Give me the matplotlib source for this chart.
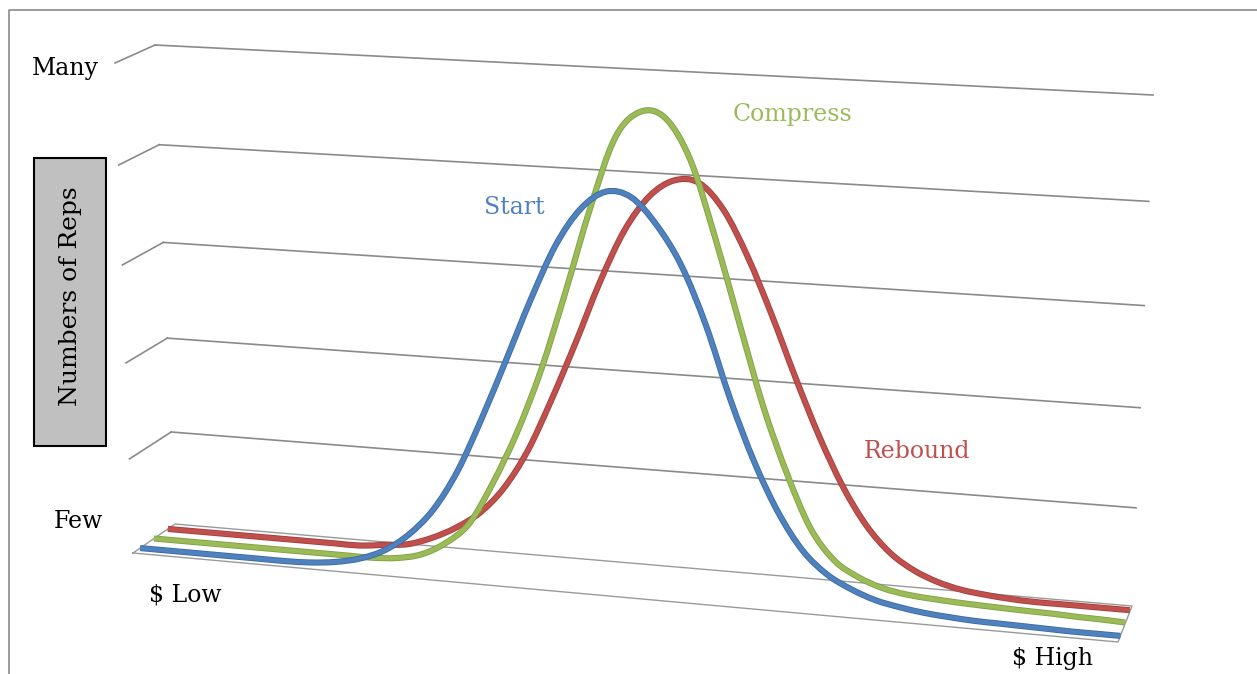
import matplotlib
matplotlib.use("Agg")
import matplotlib.pyplot as plt
import matplotlib.patheffects as pe
from matplotlib.patches import Rectangle, PathPatch
from matplotlib.path import Path
from matplotlib.transforms import Transform
import numpy as np


# price steps from "$ Low" (0) to "$ High" (40)
price_steps = list(range(41))

start = [0, 0, 0, 0, 0, 0, 0, 0.01, 0.04, 0.1, 0.21, 0.4, 0.68, 1.1, 1.66,
         2.27, 2.89, 3.44, 3.81, 3.99, 3.95, 3.7, 3.32, 2.75, 2.04, 1.43, 0.94,
         0.58, 0.36, 0.23, 0.14, 0.09, 0.055, 0.035, 0.02, 0.015, 0.01, 0.005,
         0, 0, 0]

compress = [0, 0, 0, 0, 0, 0, 0, 0, 0, 0, 0.02, 0.08, 0.22, 0.45, 0.9, 1.44,
            2.1, 2.9, 3.74, 4.44, 4.7, 4.65, 4.26, 3.53, 2.71, 1.9, 1.24,
            0.7, 0.39, 0.24, 0.15, 0.105, 0.085, 0.07, 0.06, 0.052, 0.045,
            0.04, 0.03, 0.025, 0.015]

rebound = [0, 0, 0, 0, 0, 0, 0, 0, 0, 0.03, 0.06, 0.15, 0.28, 0.46, 0.74,
           1.15, 1.7, 2.3, 2.93, 3.46, 3.81, 3.98, 3.97, 3.72, 3.27, 2.71, 2.1,
           1.53, 1.04, 0.66, 0.4, 0.24, 0.14, 0.08, 0.05, 0.03, 0.02, 0.02,
           0.02, 0.02, 0.02]

series_names = ["Rebound", "Compress", "Start"]
value_levels = [0, 1, 2, 3, 4, 5]
value_labels = {0: "Few", 5: "Many"}
category_labels = ["$ Low", "$ High"]


# ---- 3D frame of the chart (pixel corners of the box) ----
X_MAX = price_steps[-1]
V_MAX = value_levels[-1]
PERSP = 0.951
# corners indexed [x][depth] -> pixel (x, y)
FLOOR = np.array([[(133, 553), (175, 524)], [(1118, 642), (1132, 606)]], float)
CEIL = np.array([[(115, 63), (155, 45)], [(1139, 118), (1153, 95)]], float)


def bilerp(c, x, z):
    x = x[:, None]
    z = z[:, None]
    return ((1 - x) * (1 - z) * c[0, 0] + x * (1 - z) * c[1, 0]
            + (1 - x) * z * c[0, 1] + x * z * c[1, 1])


def project(x, v, z):
    x = np.asarray(x, float) / X_MAX
    t = np.asarray(v, float) / V_MAX
    z = np.asarray(z, float)
    f = PERSP * t / (1 + (PERSP - 1) * t)
    lo = bilerp(FLOOR, x, z)
    hi = bilerp(CEIL, x, z)
    return lo + f[:, None] * (hi - lo)


class Plane(Transform):
    input_dims = 2
    output_dims = 2

    def __init__(self, fixed, value):
        super().__init__()
        self.fixed = fixed
        self.value = value

    def transform_non_affine(self, values):
        values = np.asarray(values, float).reshape(-1, 2)
        a, b = values[:, 0], values[:, 1]
        c = np.full_like(a, self.value)
        if self.fixed == "depth":      # inputs (price, value)
            return project(a, b, c)
        if self.fixed == "price":      # inputs (depth, value)
            return project(c * X_MAX, b, a)
        return project(a, c, b)        # fixed value: inputs (price, depth)


def smooth_path(xs, ys):
    # smoothed line through the points (like Excel's "smoothed line")
    p = np.column_stack([xs, ys]).astype(float)
    verts = [p[0]]
    codes = [Path.MOVETO]
    n = len(p)
    for i in range(n - 1):
        p0 = p[max(i - 1, 0)]
        p1 = p[i]
        p2 = p[i + 1]
        p3 = p[min(i + 2, n - 1)]
        verts += [p1 + (p2 - p0) / 6, p2 - (p3 - p1) / 6, p2]
        codes += [Path.CURVE4] * 3
    return Path(verts, codes)


fig = plt.figure(figsize=(12.57, 6.74), dpi=100)
ax = fig.add_axes([0, 0, 1, 1])
ax.set_autoscale_on(False)
ax.set_xlim(0, 1257)
ax.set_ylim(674, 0)
ax.axis("off")

# picture border
ax.plot([9, 9, 1257], [674, 10, 10], color="#8a8a8a", lw=1.2)

grid_color = "#8a8a8a"
for v in value_levels[1:]:
    ax.plot([0, X_MAX], [v, v], color=grid_color, lw=1.2,
            transform=Plane("depth", 1) + ax.transData, zorder=1)
    ax.plot([0, 1], [v, v], color=grid_color, lw=1.2,
            transform=Plane("price", 0) + ax.transData, zorder=1)

# floor outline
ax.plot([0, X_MAX, X_MAX, 0, 0], [0, 0, 1, 1, 0], color="#9a9a9a", lw=1.0,
        transform=Plane("value", 0) + ax.transData, zorder=1.5)

styles = {
    "Rebound": (rebound, 0.83, "#c0504d", "#a23e3b"),
    "Compress": (compress, 0.5, "#9bbb59", "#7fa040"),
    "Start": (start, 0.17, "#4f81bd", "#3a6aa5"),
}
for k, name in enumerate(series_names):
    vals, depth, color, edge = styles[name]
    ax.add_patch(PathPatch(smooth_path(price_steps, vals), fill=False,
                           edgecolor=color, lw=3.2, zorder=2 + k,
                           transform=Plane("depth", depth) + ax.transData,
                           path_effects=[pe.Stroke(linewidth=4.4, foreground=edge),
                                         pe.Normal()]))

font = "DejaVu Serif"
ax.text(65, 68, value_labels[5], fontsize=17, family=font, ha="center", va="center")
ax.text(78, 522, value_labels[0], fontsize=17, family=font, ha="center", va="center")
ax.text(185, 595, category_labels[0], fontsize=17, family=font, ha="center", va="center")
ax.text(1053, 658, category_labels[1], fontsize=17, family=font, ha="center", va="center")

ax.text(514, 208, "Start", fontsize=17, family=font, color="#4f81bd",
        ha="center", va="center")
ax.text(792, 115, "Compress", fontsize=17, family=font, color="#9bbb59",
        ha="center", va="center")
ax.text(917, 451, "Rebound", fontsize=17, family=font, color="#c0504d",
        ha="center", va="center")

ax.add_patch(Rectangle((34, 158), 72, 288, facecolor="#c0c0c0",
                       edgecolor="black", lw=1.5))
ax.text(70, 296, "Numbers of Reps", fontsize=18, family=font, rotation=90,
        ha="center", va="center")

fig.savefig("out.png", dpi=100)
plt.close(fig)
